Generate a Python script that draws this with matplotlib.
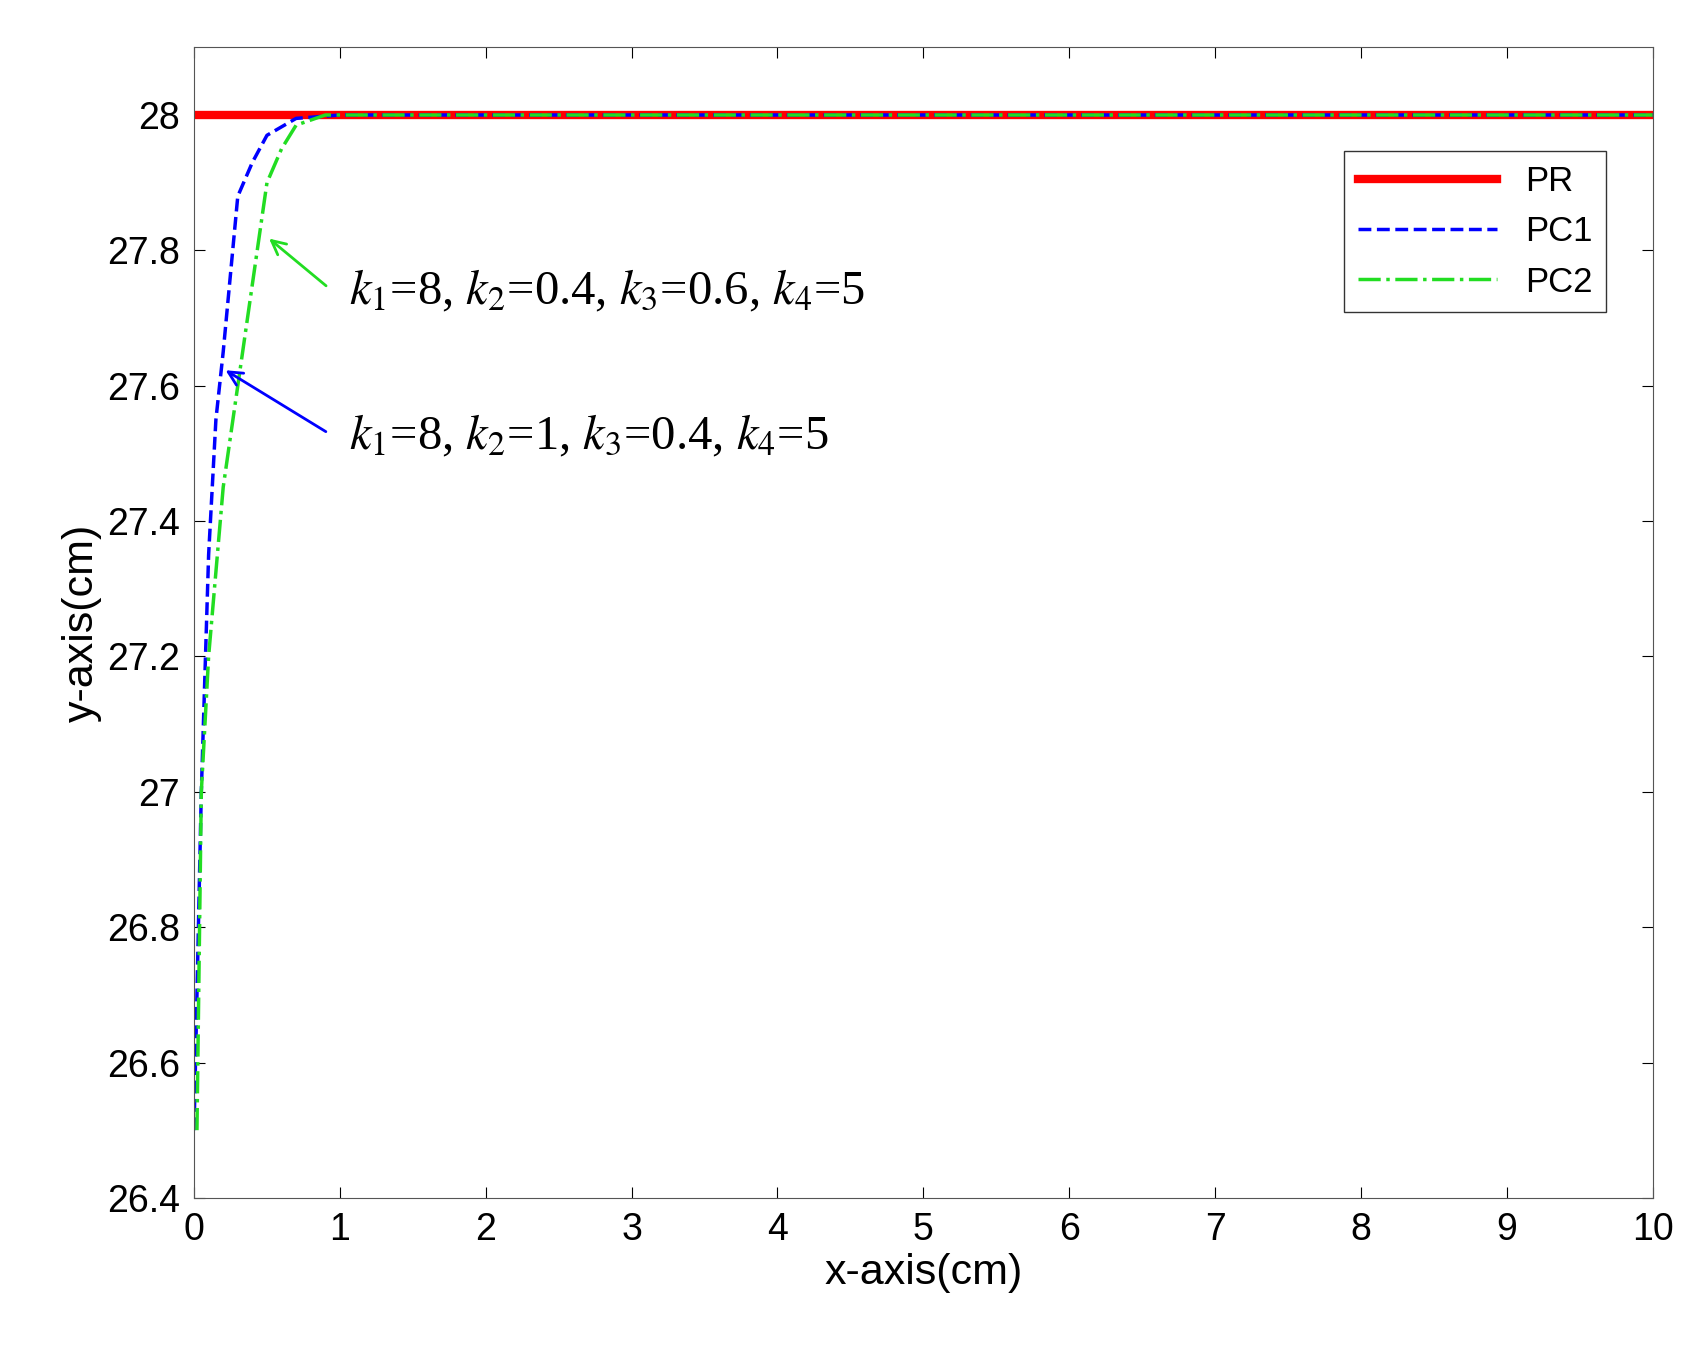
import matplotlib
matplotlib.use('Agg')
import matplotlib.pyplot as plt

plt.rcParams['font.family'] = ['Liberation Sans', 'DejaVu Sans']
plt.rcParams['mathtext.fontset'] = 'stix'

# data
pr_x = [0, 10]
pr_y = [28, 28]
pc1_x = [0, 0.05, 0.1, 0.15, 0.2, 0.3, 0.4, 0.5, 0.7, 1.0, 10]
pc1_y = [26.5, 27.0, 27.35, 27.55, 27.65, 27.88, 27.93, 27.97, 27.995, 28.0, 28.0]
pc2_x = [0.02, 0.05, 0.1, 0.2, 0.3, 0.4, 0.5, 0.6, 0.7, 0.9, 10]
pc2_y = [26.5, 27.0, 27.2, 27.45, 27.6, 27.75, 27.9, 27.95, 27.985, 28.0, 28.0]

fig = plt.figure(figsize=(17.02, 13.52), dpi=100)
ax = fig.add_axes([0.114, 0.114, 0.857, 0.851])

ax.plot(pr_x, pr_y, color='red', lw=6, label='PR')
ax.plot(pc1_x, pc1_y, color='blue', lw=2.5, ls='--', label='PC1')
ax.plot(pc2_x, pc2_y, color='#22dd22', lw=2.5, ls='-.', label='PC2')

ax.set_xlim(0, 10)
ax.set_ylim(26.4, 28.1)
ax.set_xticks(range(0, 11))
ax.set_yticks([26.4, 26.6, 26.8, 27, 27.2, 27.4, 27.6, 27.8, 28])
ax.set_yticklabels(['26.4', '26.6', '26.8', '27', '27.2', '27.4', '27.6', '27.8', '28'])
ax.tick_params(labelsize=27, direction='in', length=8, top=True, right=True, pad=10)
for s in ax.spines.values():
    s.set_color('#555555')
ax.set_xlabel('x-axis(cm)', fontsize=31)
ax.set_ylabel('y-axis(cm)', fontsize=31)

ax.text(1.06, 27.74, r'$k_1$=8, $k_2$=0.4, $k_3$=0.6, $k_4$=5', fontsize=35,
        family='Liberation Serif', va='center')
ax.text(1.06, 27.525, r'$k_1$=8, $k_2$=1, $k_3$=0.4, $k_4$=5', fontsize=35,
        family='Liberation Serif', va='center')
ax.annotate('', xy=(0.5, 27.82), xytext=(0.92, 27.745),
            arrowprops=dict(arrowstyle='->', color='#22dd22', lw=2, mutation_scale=25))
ax.annotate('', xy=(0.2, 27.625), xytext=(0.92, 27.53),
            arrowprops=dict(arrowstyle='->', color='blue', lw=2, mutation_scale=25))

leg = ax.legend(loc='upper right', bbox_to_anchor=(0.98, 0.925), fontsize=25,
                fancybox=False, edgecolor='black', handlelength=4, labelspacing=0.5)

fig.savefig('out.png', dpi=100)
